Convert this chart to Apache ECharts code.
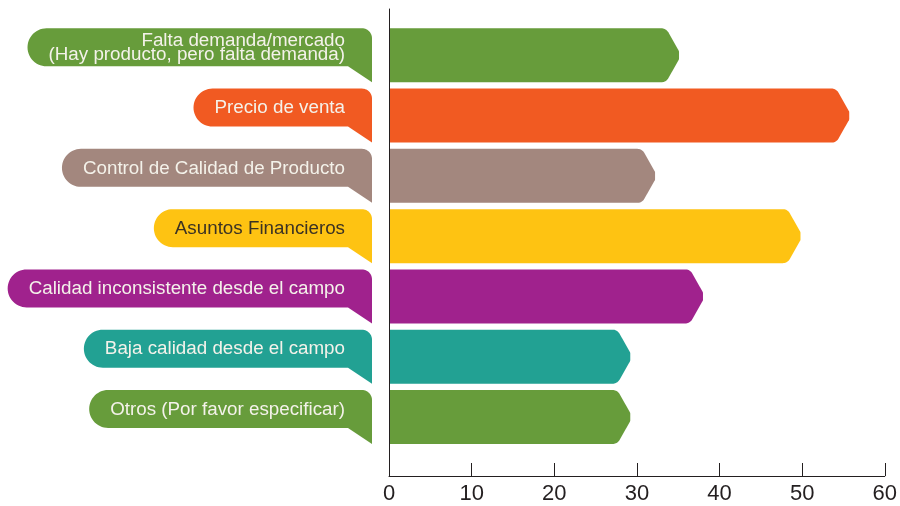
<!DOCTYPE html>
<html>
<head>
<meta charset="utf-8">
<script src="https://cdn.jsdelivr.net/npm/echarts@6/dist/echarts.min.js"></script>
<style>
  html, body { margin: 0; padding: 0; background: #ffffff; }
  #chart { width: 900px; height: 506px; }
</style>
</head>
<body>
<div id="chart"></div>
<script>
// Categories (top to bottom), their values and colours
const categories = [
  'Falta demanda/mercado\n(Hay producto, pero falta demanda)',
  'Precio de venta',
  'Control de Calidad de Producto',
  'Asuntos Financieros',
  'Calidad inconsistente desde el campo',
  'Baja calidad desde el campo',
  'Otros (Por favor especificar)'
];
const values = [35.1, 55.7, 32.2, 49.8, 38.0, 29.2, 29.2];
const barColors = ['#679c3b', '#f15a22', '#a3877e', '#fec312', '#a0228d', '#22a193', '#679c3b'];
const labelColors = ['#f4f2ea', '#f4f2ea', '#f4f2ea', '#3b3224', '#f4f2ea', '#f4f2ea', '#f4f2ea'];
const xTicks = { min: 0, max: 60, interval: 10 };

const LABEL_FONT_SIZE = 18.8;
const LABEL_FONT_FAMILY = '"Liberation Sans", Arial, Helvetica, sans-serif';

// Text measurement for sizing the speech bubbles
const measureCtx = document.createElement('canvas').getContext('2d');
measureCtx.font = LABEL_FONT_SIZE + 'px ' + LABEL_FONT_FAMILY;
function textWidth(str) {
  return Math.max.apply(null, str.split('\n').map(s => measureCtx.measureText(s).width));
}

// Polygon with circular fillets at the vertices (radius 0 = sharp corner)
function roundedPolygon(pts, radii, seg) {
  seg = seg || 10;
  const out = [];
  const n = pts.length;
  for (let i = 0; i < n; i++) {
    const V = pts[i], P = pts[(i - 1 + n) % n], N = pts[(i + 1) % n];
    const r = radii[i] || 0;
    if (!r) { out.push(V); continue; }
    let u1 = [P[0] - V[0], P[1] - V[1]]; const l1 = Math.hypot(u1[0], u1[1]); u1 = [u1[0] / l1, u1[1] / l1];
    let u2 = [N[0] - V[0], N[1] - V[1]]; const l2 = Math.hypot(u2[0], u2[1]); u2 = [u2[0] / l2, u2[1] / l2];
    const dot = Math.max(-1, Math.min(1, u1[0] * u2[0] + u1[1] * u2[1]));
    const half = Math.acos(dot) / 2;
    let t = r / Math.tan(half);
    t = Math.min(t, l1 / 2, l2 / 2);
    const rr = t * Math.tan(half);
    const T1 = [V[0] + u1[0] * t, V[1] + u1[1] * t];
    const T2 = [V[0] + u2[0] * t, V[1] + u2[1] * t];
    let b = [u1[0] + u2[0], u1[1] + u2[1]]; const lb = Math.hypot(b[0], b[1]); b = [b[0] / lb, b[1] / lb];
    const d = rr / Math.sin(half);
    const C = [V[0] + b[0] * d, V[1] + b[1] * d];
    const a1 = Math.atan2(T1[1] - C[1], T1[0] - C[0]);
    const a2 = Math.atan2(T2[1] - C[1], T2[0] - C[0]);
    let delta = a2 - a1;
    while (delta > Math.PI) delta -= 2 * Math.PI;
    while (delta < -Math.PI) delta += 2 * Math.PI;
    for (let k = 0; k <= seg; k++) {
      const a = a1 + delta * k / seg;
      out.push([C[0] + rr * Math.cos(a), C[1] + rr * Math.sin(a)]);
    }
  }
  return out;
}

const seriesData = values.map((v, i) => [v, i]);
const BAR_FRACTION = 0.896;

// Arrow-shaped bars
function renderBar(params, api) {
  const idx = api.value(1);
  const start = api.coord([0, idx]);
  const end = api.coord([api.value(0), idx]);
  const h = api.size([0, 1])[1] * BAR_FRACTION;
  const cy = start[1];
  const top = cy - h / 2, bottom = cy + h / 2;
  const left = start[0] + 1;
  const tip = end[0];
  const shoulder = tip - 13;
  const pts = [
    [left, top], [shoulder, top], [tip, cy - 4], [tip, cy + 4], [shoulder, bottom], [left, bottom]
  ];
  return {
    type: 'polygon',
    shape: { points: roundedPolygon(pts, [0, 8, 3, 3, 8, 0]) },
    style: { fill: barColors[idx] }
  };
}

// Speech-bubble category labels to the left of the axis
function renderBubble(params, api) {
  const idx = api.value(1);
  const start = api.coord([0, idx]);
  const h = api.size([0, 1])[1] * BAR_FRACTION;
  const cy = start[1];
  const top = cy - h / 2, bottom = cy + h / 2;
  const right = start[0] - 17;
  const bodyH = 38;
  const bodyBottom = top + bodyH;
  const text = categories[idx];
  const textRight = right - 27;
  const left = textRight - textWidth(text) - 21;
  const pts = [
    [left, top], [right, top], [right, bottom], [right - 24, bodyBottom], [left, bodyBottom]
  ];
  return {
    type: 'group',
    children: [
      {
        type: 'polygon',
        shape: { points: roundedPolygon(pts, [19, 10, 0, 0, 19], 14) },
        style: { fill: barColors[idx] }
      },
      {
        type: 'text',
        style: {
          text: text,
          x: textRight,
          y: top + bodyH / 2 + 0.5,
          align: 'right',
          verticalAlign: 'middle',
          fill: labelColors[idx],
          fontSize: LABEL_FONT_SIZE,
          fontFamily: LABEL_FONT_FAMILY,
          lineHeight: 14.5
        }
      }
    ]
  };
}

const chart = echarts.init(document.getElementById('chart'), null, { renderer: 'canvas' });
chart.setOption({
  animation: false,
  backgroundColor: '#ffffff',
  grid: { left: 389, right: 15, top: 9, bottom: 30, containLabel: false },
  xAxis: {
    type: 'value',
    position: 'bottom',
    min: xTicks.min,
    max: xTicks.max,
    interval: xTicks.interval,
    axisLine: { show: true, onZero: false, lineStyle: { color: '#231f20', width: 1 } },
    axisTick: { show: true, inside: true, length: 13, lineStyle: { color: '#231f20', width: 1 } },
    axisLabel: { color: '#231f20', fontSize: 22, margin: 7, fontFamily: '"Liberation Sans", Arial, sans-serif' },
    splitLine: { show: false }
  },
  yAxis: {
    type: 'value',
    position: 'left',
    inverse: true,
    min: -0.768,
    max: 6.979,
    axisLine: { show: true, onZero: false, lineStyle: { color: '#231f20', width: 1 } },
    axisTick: { show: false },
    axisLabel: { show: false },
    splitLine: { show: false }
  },
  series: [
    {
      type: 'custom',
      name: 'bars',
      clip: false,
      renderItem: renderBar,
      encode: { x: 0, y: 1 },
      data: seriesData,
      z: 2
    },
    {
      type: 'custom',
      name: 'labels',
      clip: false,
      renderItem: renderBubble,
      encode: { x: 0, y: 1 },
      data: seriesData,
      z: 3
    }
  ]
});
</script>
</body>
</html>
